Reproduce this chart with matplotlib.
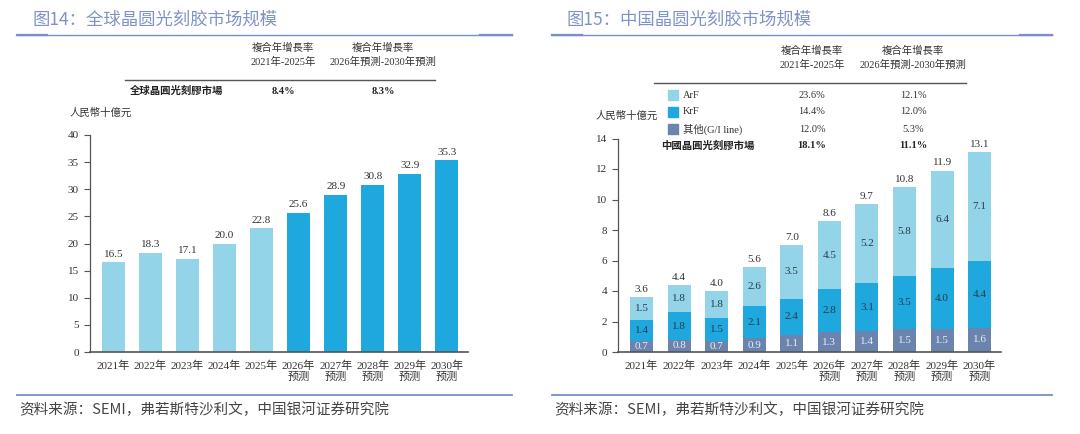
import matplotlib
matplotlib.use("Agg")
import matplotlib.pyplot as plt
import numpy as np
from matplotlib.lines import Line2D
from matplotlib.patches import Rectangle

plt.rcParams['font.family'] = ['Liberation Serif', 'Noto Sans CJK SC', 'DejaVu Sans']

# ---------------- data ----------------
years_left = ["2021年", "2022年", "2023年", "2024年", "2025年",
              "2026年\n预测", "2027年\n预测", "2028年\n预测", "2029年\n预测", "2030年\n预测"]
global_market = [16.5, 18.3, 17.1, 20.0, 22.8, 25.6, 28.9, 30.8, 32.9, 35.3]
is_forecast = [False] * 5 + [True] * 5

years_right = years_left
china_other = [0.7, 0.8, 0.7, 0.9, 1.1, 1.3, 1.4, 1.5, 1.5, 1.6]
china_krf = [1.4, 1.8, 1.5, 2.1, 2.4, 2.8, 3.1, 3.5, 4.0, 4.4]
china_arf = [1.5, 1.8, 1.8, 2.6, 3.5, 4.5, 5.2, 5.8, 6.4, 7.1]
china_total = [3.6, 4.4, 4.0, 5.6, 7.0, 8.6, 9.7, 10.8, 11.9, 13.1]

left_table_row = ["全球晶圓光刻膠市場", "8.4%", "8.3%"]
right_table_rows = [["ArF", "23.6%", "12.1%"],
                    ["KrF", "14.4%", "12.0%"],
                    ["其他(G/I line)", "12.0%", "5.3%"],
                    ["中國晶圓光刻膠市場", "18.1%", "11.1%"]]
hdr1 = "複合年增長率\n2021年-2025年"
hdr2 = "複合年增長率\n2026年預測-2030年預測"

title_left = "图14：全球晶圆光刻胶市场规模"
title_right = "图15：中国晶圆光刻胶市场规模"
source = "资料来源：SEMI，弗若斯特沙利文，中国银河证券研究院"
unit = "人民幣十億元"

# ---------------- style ----------------
C_LIGHT = "#93d4e8"
C_DARK = "#1fa8de"
C_GRAY = "#6b84ad"
C_TITLE = "#7f93c6"
C_LINE = "#7590c6"
C_TEXT = "#333333"
C_AX = "#555555"

W, H = 1080, 434
fig = plt.figure(figsize=(W / 100, H / 100), dpi=100)
fig.patch.set_facecolor("white")


def fx(px):
    return px / W


def fy(py):
    return 1 - py / H


def hline(x0, x1, y, lw, color):
    fig.add_artist(Line2D([fx(x0), fx(x1)], [fy(y), fy(y)], lw=lw, color=color,
                          transform=fig.transFigure))


def style_axes(ax):
    for s in ["top", "right"]:
        ax.spines[s].set_visible(False)
    ax.spines["left"].set_color(C_AX)
    ax.spines["bottom"].set_color(C_AX)
    ax.spines["left"].set_linewidth(0.9)
    ax.spines["bottom"].set_linewidth(1.2)
    ax.tick_params(axis="y", direction="out", length=4, width=0.8, color=C_AX,
                   labelsize=8, labelcolor=C_TEXT, pad=4)
    ax.tick_params(axis="x", length=0, labelsize=8, labelcolor=C_TEXT, pad=6)


# ---------------- titles / frame lines ----------------
for (x0, x1, tx, title) in [(17, 512, 32, title_left), (552, 1052, 566, title_right)]:
    fig.text(fx(tx), fy(20), title, fontsize=12.5, color=C_TITLE,
             family=['Noto Sans CJK SC', 'DejaVu Sans'], va="center", ha="left")
    hline(x0, x1, 35, 1.0, C_LINE)
    hline(x0, x0 + 30, 35, 1.6, C_LINE)
    hline(x1 - 32, x1, 35, 1.6, C_LINE)
    hline(x0, x1, 395, 1.3, C_LINE)
    fig.text(fx(x0 + 2), fy(410), source, fontsize=10.5, color="#444444",
             family=['Noto Sans CJK SC', 'DejaVu Sans'], style="italic",
             va="center", ha="left")

# ---------------- left chart ----------------
axL = fig.add_axes([fx(90), fy(352), fx(468 - 90), (352 - 135) / H])
x = np.arange(len(global_market))
colors = [C_DARK if f else C_LIGHT for f in is_forecast]
bars = axL.bar(x, global_market, width=0.62, color=colors)
for b, v in zip(bars, global_market):
    axL.text(b.get_x() + b.get_width() / 2, v + 0.7, f"{v:.1f}", ha="center",
             va="bottom", fontsize=8, color=C_TEXT)
axL.set_ylim(0, 40)
axL.set_yticks(range(0, 41, 5))
axL.set_xlim(-0.63, 9.57)
axL.set_xticks(x)
axL.set_xticklabels(years_left, linespacing=1.1)
style_axes(axL)

# left table
fig.text(fx(283), fy(55), hdr1, ha="center", va="center", fontsize=7.5,
         color=C_TEXT, linespacing=1.5)
fig.text(fx(383), fy(55), hdr2, ha="center", va="center", fontsize=7.5,
         color=C_TEXT, linespacing=1.5)
hline(125, 435, 80, 1.0, "#555555")
fig.text(fx(130), fy(91), left_table_row[0], ha="left", va="center", fontsize=7.5,
         color="#222222", weight="bold")
fig.text(fx(283), fy(91), left_table_row[1], ha="center", va="center", fontsize=7.5,
         color="#222222", weight="bold")
fig.text(fx(383), fy(91), left_table_row[2], ha="center", va="center", fontsize=7.5,
         color="#222222", weight="bold")
fig.text(fx(70), fy(113), unit, ha="left", va="center", fontsize=7.5, color=C_TEXT)

# ---------------- right chart ----------------
axR = fig.add_axes([fx(618), fy(352), fx(1001 - 618), (352 - 138.5) / H])
xr = np.arange(len(china_total))
other = np.array(china_other)
krf = np.array(china_krf)
arf = np.array(china_arf)
w = 0.61
b1 = axR.bar(xr, other, width=w, color=C_GRAY)
b2 = axR.bar(xr, krf, width=w, bottom=other, color=C_DARK)
b3 = axR.bar(xr, arf, width=w, bottom=other + krf, color=C_LIGHT)
for i in range(len(xr)):
    axR.text(xr[i], other[i] / 2, f"{other[i]:.1f}", ha="center", va="center",
             fontsize=8, color="#e8ecf4")
    axR.text(xr[i], other[i] + krf[i] / 2, f"{krf[i]:.1f}", ha="center", va="center",
             fontsize=8, color="#2a3a4a")
    axR.text(xr[i], other[i] + krf[i] + arf[i] / 2, f"{arf[i]:.1f}", ha="center",
             va="center", fontsize=8, color="#2a3a4a")
    axR.text(xr[i], china_total[i] + 0.2, f"{china_total[i]:.1f}", ha="center",
             va="bottom", fontsize=8, color=C_TEXT)
axR.set_ylim(0, 14)
axR.set_yticks(range(0, 15, 2))
axR.set_xlim(-0.63, 9.57)
axR.set_xticks(xr)
axR.set_xticklabels(years_right, linespacing=1.1)
style_axes(axR)

# right table
fig.text(fx(812), fy(58), hdr1, ha="center", va="center", fontsize=7.5,
         color=C_TEXT, linespacing=1.5)
fig.text(fx(913), fy(58), hdr2, ha="center", va="center", fontsize=7.5,
         color=C_TEXT, linespacing=1.5)
hline(654, 966, 83, 1.0, "#555555")
row_y = [95, 112, 129, 146]
sw_colors = [C_LIGHT, C_DARK, C_GRAY, None]
for (row, yy, sc) in zip(right_table_rows, row_y, sw_colors):
    bold = sc is None
    wt = "bold" if bold else "normal"
    if sc is not None:
        fig.add_artist(Rectangle((fx(668), fy(yy + 5)), fx(10), 10 / H,
                                 transform=fig.transFigure, color=sc))
        fig.text(fx(683), fy(yy), row[0], ha="left", va="center", fontsize=7.5,
                 color=C_TEXT)
    else:
        fig.text(fx(661), fy(yy), row[0], ha="left", va="center", fontsize=7.5,
                 color="#222222", weight="bold")
    fig.text(fx(812), fy(yy), row[1], ha="center", va="center", fontsize=7.5,
             color="#222222" if bold else C_TEXT, weight=wt)
    fig.text(fx(913), fy(yy), row[2], ha="center", va="center", fontsize=7.5,
             color="#222222" if bold else C_TEXT, weight=wt)
fig.text(fx(596), fy(116), unit, ha="left", va="center", fontsize=7.5, color=C_TEXT)

fig.savefig("out.png", dpi=100, facecolor="white")
